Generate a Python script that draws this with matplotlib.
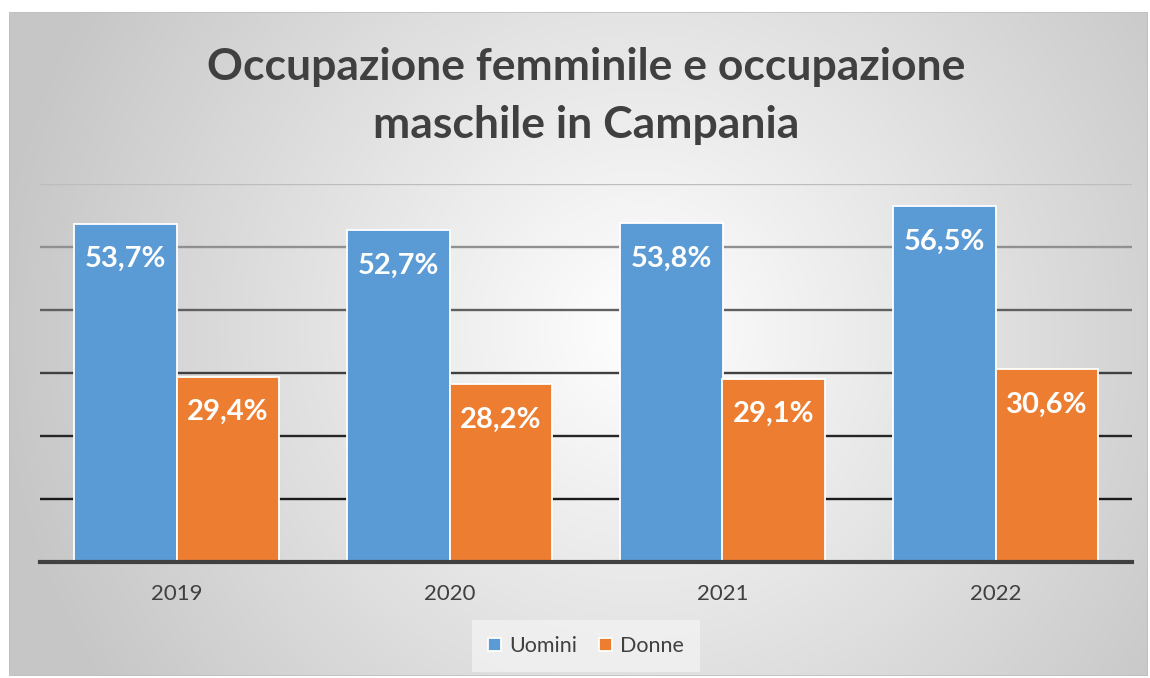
import numpy as np
import matplotlib
matplotlib.use("Agg")
import matplotlib.pyplot as plt
from matplotlib.patches import Rectangle

years = ["2019", "2020", "2021", "2022"]
uomini = [53.7, 52.7, 53.8, 56.5]
donne = [29.4, 28.2, 29.1, 30.6]
series_names = ["Uomini", "Donne"]
title = "Occupazione femminile e occupazione\nmaschile in Campania"

W, H, DPI = 1150, 678, 100
fig = plt.figure(figsize=(W / DPI, H / DPI), dpi=DPI, facecolor="white")
plt.rcParams['font.family'] = ['Lato', 'DejaVu Sans']

# chart area background with radial gradient
x0, y0, x1, y1 = 9, 12, 1148, 676
bg = fig.add_axes([x0 / W, 1 - y1 / H, (x1 - x0) / W, (y1 - y0) / H])
bg.set_xlim(x0, x1)
bg.set_ylim(y1, y0)
xx, yy = np.meshgrid(np.arange(x0, x1), np.arange(y0, y1))
cx, cy = 640, 330
r = np.sqrt((xx - cx) ** 2 + (yy - cy) ** 2)
r = np.clip(r / 640, 0, 1)
val = 1.0 - 0.22 * r
img = np.dstack([val, val, val])
bg.imshow(img, extent=[x0, x1, y1, y0], aspect="auto", zorder=0)
bg.add_patch(Rectangle((x0, y0), x1 - x0, y1 - y0, fill=False, ec="#bfbfbf", lw=1.2, zorder=2))
bg.axis("off")

# main plot axes
L, R, B, T = 40, 1132, 562, 184
ax = fig.add_axes([L / W, 1 - B / H, (R - L) / W, (B - T) / H])
ax.patch.set_alpha(0)
ax.set_xlim(-0.5, len(years) - 0.5)
ax.set_ylim(0, 60)
for s in ax.spines.values():
    s.set_visible(False)
ax.set_yticks([])
grid_colors = ["#1a1a1a", "#262626", "#404040", "#606060", "#909090", "#bdbdbd"]
for v, c in zip([10, 20, 30, 40, 50, 60], grid_colors):
    ax.axhline(v, color=c, lw=1.7, zorder=1)
ax.axhline(0, color="#404040", lw=3.0, zorder=4, clip_on=False)

x = np.arange(len(years))
bw = 0.374
b1 = ax.bar(x - bw / 2, uomini, bw, color="#5b9bd5", edgecolor="white", lw=1.3, zorder=3, label=series_names[0])
b2 = ax.bar(x + bw / 2, donne, bw, color="#ed7d31", edgecolor="white", lw=1.3, zorder=3, label=series_names[1])
for bars, vals in [(b1, uomini), (b2, donne)]:
    for b, v in zip(bars, vals):
        ax.annotate(f"{v:.1f}%".replace(".", ","), (b.get_x() + b.get_width() / 2, v),
                    xytext=(0, -25.5), textcoords="offset points", ha="center", va="center",
                    color="white", fontsize=21, fontweight="bold", zorder=5)

ax.set_xticks(x)
ax.set_xticklabels(years, fontsize=16, color="#404040")
ax.tick_params(axis="x", length=0, pad=16)

fig.text(586 / W, 1 - 96 / H, title, ha="center", va="center", fontsize=32, fontweight="bold",
         color="#404040", linespacing=1.55)

leg = fig.legend(handles=[b1, b2], labels=series_names, loc="center", bbox_to_anchor=(586 / W, 1 - 646 / H),
                 ncol=2, frameon=True, fontsize=15.5, handlelength=0.6, handleheight=0.6,
                 columnspacing=1.0, handletextpad=0.4, borderpad=0.45)
leg.get_frame().set_facecolor("#f2f2f2")
leg.get_frame().set_edgecolor("none")
leg.get_frame().set_boxstyle("square")
for t in leg.get_texts():
    t.set_color("#404040")

fig.savefig("out.png", dpi=DPI, facecolor="white")
